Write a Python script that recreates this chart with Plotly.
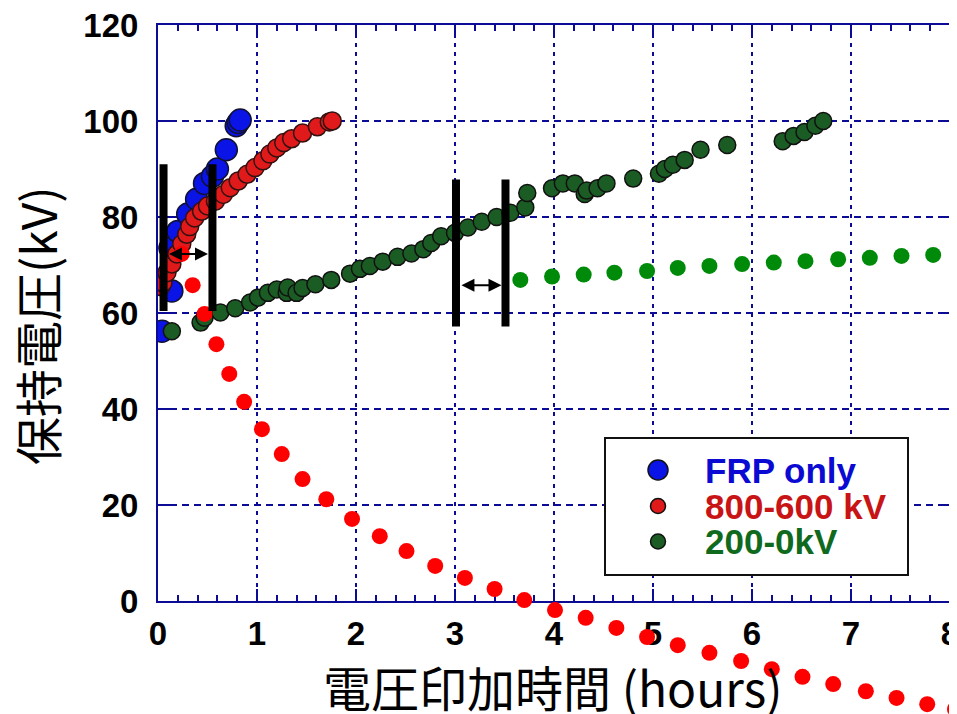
import plotly.graph_objects as go

# ---------------- data ----------------
frp_x = [0.04, 0.14, 0.12, 0.20, 0.30, 0.39, 0.47, 0.55, 0.60, 0.69, 0.79, 0.81, 0.83]
frp_y = [56.2, 64.6, 73.5, 77.0, 80.6, 83.7, 87.0, 88.5, 90.0, 94.0, 99.0, 99.7, 100.2]

r800_x = [0.03, 0.05, 0.09, 0.14, 0.19, 0.24, 0.29, 0.32, 0.37, 0.44, 0.50, 0.58, 0.66,
          0.73, 0.81, 0.90, 0.98, 1.06, 1.13, 1.20, 1.27, 1.35, 1.46, 1.61, 1.73, 1.76]
r800_y = [65.5, 66.3, 68.4, 70.2, 72.3, 74.4, 76.4, 78.0, 79.8, 81.2, 82.3, 83.3, 84.7,
          86.1, 87.5, 88.9, 90.3, 91.7, 93.1, 94.4, 95.5, 96.3, 97.5, 98.8, 99.8, 100.0]

g200_x = [0.14, 0.43, 0.47, 0.63, 0.78, 0.93, 1.01, 1.11, 1.20, 1.30, 1.31, 1.40, 1.46,
          1.59, 1.75, 1.94, 2.04, 2.14, 2.27, 2.42, 2.56, 2.68, 2.76, 2.86, 3.00, 3.13,
          3.27, 3.42, 3.56, 3.71, 3.73, 3.98, 4.09, 4.21, 4.31, 4.33, 4.44, 4.53, 4.80,
          5.06, 5.12, 5.20, 5.32, 5.48, 5.75, 6.31, 6.42, 6.53, 6.64, 6.72]
g200_y = [56.2, 58.0, 59.0, 60.1, 61.0, 62.2, 63.2, 64.2, 64.9, 64.2, 65.3, 64.2, 65.2,
          66.0, 66.9, 68.2, 69.2, 69.8, 70.7, 71.7, 72.4, 73.3, 74.6, 76.0, 76.7, 77.8,
          79.0, 80.0, 80.9, 82.0, 85.0, 86.0, 87.0, 87.0, 84.8, 85.5, 86.0, 87.0, 88.0,
          89.0, 90.0, 90.9, 91.9, 94.0, 95.0, 95.8, 96.9, 97.7, 99.0, 100.0]

decay_x = [0.24, 0.35, 0.47, 0.59, 0.72, 0.87, 1.05, 1.25, 1.46, 1.70, 1.96, 2.24, 2.51,
           2.80, 3.10, 3.40, 3.70, 4.01, 4.32, 4.63, 4.94, 5.25, 5.57, 5.89, 6.20, 6.51,
           6.82, 7.15, 7.46, 7.77, 8.05]
decay_y = [72.3, 65.8, 59.8, 53.5, 47.3, 41.5, 35.8, 30.6, 25.4, 21.2, 17.1, 13.5, 10.4,
           7.3, 4.8, 2.5, 0.2, -1.9, -3.5, -5.6, -7.5, -9.2, -10.8, -12.5, -14.2, -15.8,
           -17.3, -18.8, -20.2, -21.5, -22.5]

hold_x = [3.66, 3.98, 4.30, 4.61, 4.94, 5.25, 5.57, 5.90, 6.22, 6.54, 6.87, 7.19, 7.51, 7.83]
hold_y = [66.9, 67.6, 68.0, 68.4, 68.75, 69.4, 69.8, 70.2, 70.5, 70.8, 71.2, 71.5, 71.9, 72.1]

# vertical marker bars: (x, y_bottom, y_top)
bars = [(0.056, 60.4, 91.0), (0.55, 60.4, 91.0), (3.01, 57.2, 87.8), (3.51, 57.2, 87.8)]
# double arrows: (x_start, x_end, y)
arrows = [(0.096, 0.505, 72.3), (3.05, 3.47, 65.8)]

x_ticks = [0, 1, 2, 3, 4, 5, 6, 7, 8]
y_ticks = [0, 20, 40, 60, 80, 100, 120]

legend_labels = ["FRP only", "800-600 kV", "200-0kV"]
legend_text_colors = ["#0a0ad2", "#c81414", "#0f6a1e"]
legend_fill = ["#0a14e6", "#e01a1a", "#1a5c23"]
legend_marker_px = [20, 15, 15]

x_title = "電圧印加時間 (hours)"
y_title = "保持電圧(kV)"

NAVY = "#0b0b96"
OFF = 8                                       # page (body) margin of the html page
W, H = 957, 714 - OFF
PL, PR, PT, PB = 158, 950, 25, 601            # plot area in window pixels
XMAX, YMAX = 8.0, 120.0
ux = (PR - PL) / XMAX                         # px per x unit
uy = (PB - PT) / YMAX                         # px per y unit

def fx(px):
    return (px - OFF) / W
def fy(py):
    return (H - (py - OFF)) / H

fig = go.Figure()

fig.add_trace(go.Scatter(x=frp_x, y=frp_y, mode="markers", name=legend_labels[0],
                         marker=dict(size=22, color=legend_fill[0],
                                     line=dict(color="#111133", width=1.5)),
                         showlegend=False))
fig.add_trace(go.Scatter(x=r800_x, y=r800_y, mode="markers", name=legend_labels[1],
                         marker=dict(size=18, color=legend_fill[1],
                                     line=dict(color="#331111", width=1.5)),
                         showlegend=False))
fig.add_trace(go.Scatter(x=g200_x, y=g200_y, mode="markers", name=legend_labels[2],
                         marker=dict(size=17, color=legend_fill[2],
                                     line=dict(color="#111111", width=1.5)),
                         showlegend=False))
fig.add_trace(go.Scatter(x=hold_x, y=hold_y, mode="markers", name="hold",
                         marker=dict(size=16, color="#008a0a"),
                         showlegend=False))
# decay dots continue below the x axis: drawn against an invisible axis pair
# that spans the page with the same scale as the main axes
fig.add_trace(go.Scatter(x=decay_x, y=decay_y, mode="markers", name="decay",
                         xaxis="x2", yaxis="y2",
                         marker=dict(size=16, color="#ff0000"),
                         cliponaxis=False, showlegend=False))

shapes = []
for bx, b0, b1 in bars:
    shapes.append(dict(type="line", xref="x", yref="y", x0=bx, x1=bx, y0=b0, y1=b1,
                       line=dict(color="black", width=8)))

# legend box
shapes.append(dict(type="rect", xref="paper", yref="paper",
                   x0=fx(605), x1=fx(908), y0=fy(575), y1=fy(438),
                   line=dict(color="#111111", width=2), fillcolor="white", layer="above"))
row_y = [470, 506, 541.5]
for i in range(3):
    r = legend_marker_px[i] / 2
    shapes.append(dict(type="circle", xref="paper", yref="paper",
                       xsizemode="pixel", ysizemode="pixel",
                       xanchor=fx(658), yanchor=fy(row_y[i]),
                       x0=-r, x1=r, y0=-r, y1=r,
                       fillcolor=legend_fill[i], line=dict(color="#111111", width=1.5)))

annotations = []
for xs, xe, ay in arrows:
    annotations.append(dict(x=xe, y=ay, ax=xs, ay=ay, xref="x", yref="y",
                            axref="x", ayref="y", text="", showarrow=True,
                            arrowhead=2, arrowside="end+start", arrowsize=1.3,
                            arrowwidth=2, arrowcolor="black", standoff=0, startstandoff=0))
for i in range(3):
    annotations.append(dict(x=fx(703), y=fy(row_y[i]), xref="paper", yref="paper",
                            xanchor="left", yanchor="middle", showarrow=False,
                            text="<b>%s</b>" % legend_labels[i],
                            font=dict(family="Liberation Sans, Arial", size=35,
                                      color=legend_text_colors[i])))
annotations.append(dict(x=fx(552), y=fy(686), xref="paper", yref="paper",
                        xanchor="center", yanchor="middle", showarrow=False, text=x_title,
                        font=dict(family="Noto Sans CJK JP", size=48, color="black")))
annotations.append(dict(x=fx(36), y=fy(326), xref="paper", yref="paper",
                        xanchor="center", yanchor="middle", showarrow=False, text=y_title,
                        textangle=-90,
                        font=dict(family="Noto Sans CJK JP", size=48, color="black")))

tickfont = dict(family="Liberation Sans, Arial", size=33, color="black", weight="bold")

fig.update_layout(
    width=W, height=H,
    margin=dict(l=0, r=0, t=0, b=0, pad=0),
    paper_bgcolor="white", plot_bgcolor="rgba(0,0,0,0)",
    showlegend=False,
    shapes=shapes, annotations=annotations,
    xaxis=dict(domain=[fx(PL), fx(PR)], range=[0, XMAX], automargin=False,
               tickvals=x_ticks, ticktext=[str(v) for v in x_ticks],
               showgrid=True, gridcolor=NAVY, gridwidth=2, griddash="4px,5px",
               showline=True, linecolor=NAVY, linewidth=2, mirror="ticks",
               ticks="inside", ticklen=12, tickwidth=1.5, tickcolor=NAVY,
               minor=dict(dtick=0.2, ticks="inside", ticklen=6, tickcolor=NAVY,
                          tickwidth=1.5, showgrid=False),
               tickfont=tickfont, ticklabelstandoff=2, ticklabeloverflow="allow",
               zeroline=False),
    yaxis=dict(domain=[fy(PB), fy(PT)], range=[0, YMAX], automargin=False,
               tickvals=y_ticks, ticktext=[str(v) for v in y_ticks],
               showgrid=True, gridcolor=NAVY, gridwidth=2, griddash="7px,5px",
               showline=True, linecolor=NAVY, linewidth=2, mirror="ticks",
               ticks="inside", ticklen=12, tickwidth=1.5, tickcolor=NAVY,
               tickfont=tickfont, ticklabelstandoff=11, ticklabeloverflow="allow",
               zeroline=False),
    xaxis2=dict(domain=[fx(PL), fx(957)], range=[0, (957 - PL) / ux], anchor="y2",
                visible=False, showgrid=False, zeroline=False, automargin=False),
    yaxis2=dict(domain=[0.0, 1.0], range=[-(714 - PB) / uy, YMAX + (PT - OFF) / uy],
                anchor="x2", visible=False, showgrid=False, zeroline=False,
                automargin=False),
)

fig.write_html("out.html")
